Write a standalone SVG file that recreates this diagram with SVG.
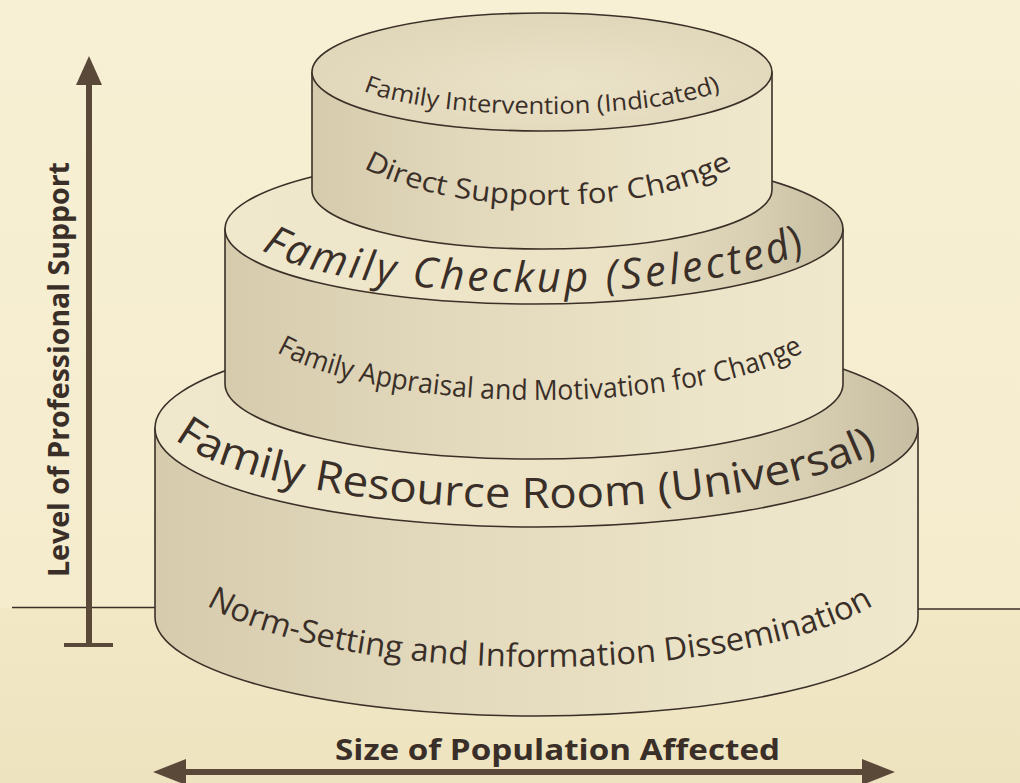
<svg xmlns="http://www.w3.org/2000/svg" xmlns:xlink="http://www.w3.org/1999/xlink" width="1020" height="783" viewBox="0 0 1020 783">
<style>
.outline{stroke:#3b3028;stroke-width:1.6;stroke-linejoin:round}
.lbl{font-family:"Open Sans","Liberation Sans",sans-serif;fill:#3a2f28}
.bold{font-weight:bold}
.arrow{fill:#5a4839}
.horizon{stroke:#3b3028;stroke-width:1.5}
</style>
<defs>
<linearGradient id="bg" x1="0" y1="0" x2="0" y2="1">
<stop offset="0" stop-color="#f8f0d4"/>
<stop offset="1" stop-color="#f5ecce"/>
</linearGradient>
<linearGradient id="ground" x1="0" y1="0" x2="0" y2="1">
<stop offset="0" stop-color="#f2e8c6"/>
<stop offset="1" stop-color="#eee3bf"/>
</linearGradient>
<linearGradient id="side" x1="0" y1="0" x2="1" y2="0">
<stop offset="0" stop-color="#d6cbad"/>
<stop offset="0.35" stop-color="#e2d8bb"/>
<stop offset="0.75" stop-color="#ece4c8"/>
<stop offset="1" stop-color="#f0e8cc"/>
</linearGradient>
<linearGradient id="top" x1="0" y1="0" x2="1" y2="0">
<stop offset="0" stop-color="#f0e8cd"/>
<stop offset="0.6" stop-color="#ece3c6"/>
<stop offset="0.85" stop-color="#d9d0b3"/>
<stop offset="1" stop-color="#c6bda2"/>
</linearGradient>
<radialGradient id="top1" cx="0.55" cy="0.6" r="0.6">
<stop offset="0" stop-color="#ebe3c8"/>
<stop offset="1" stop-color="#e0d6ba"/>
</radialGradient>
<path id="pFI" d="M 342,72 A 200 42 0 0 0 742,72"/>
<path id="pDS" d="M 328,123 A 220 82 0 0 0 768,123"/>
<path id="pFC" d="M 244,228 A 290 64 0 0 0 824,228"/>
<path id="pFA" d="M 240,308 A 300 92 0 0 0 840,308"/>
<path id="pFR" d="M 156,408 A 380 100 0 0 0 916,408"/>
<path id="pNS" d="M 170,558 A 370 109 0 0 0 910,558"/>
</defs>

<rect x="0" y="0" width="1020" height="609" fill="url(#bg)"/>
<rect x="0" y="608" width="1020" height="175" fill="url(#ground)"/>
<line class="horizon" x1="12" y1="607.5" x2="156" y2="607.5"/>
<line class="horizon" x1="917" y1="609" x2="1020" y2="609"/>

<g id="tier-universal">
<path class="outline" fill="url(#side)" d="M 155,428 L 155,617 A 381.5 99 0 0 0 918,617 L 918,428 Z"/>
<ellipse class="outline" fill="url(#top)" cx="536.5" cy="428" rx="381.5" ry="99"/>
</g>

<g id="tier-selected">
<path class="outline" fill="url(#side)" d="M 225,229 L 225,384 A 309 75 0 0 0 843,384 L 843,229 Z"/>
<ellipse class="outline" fill="url(#top)" cx="534" cy="229" rx="309" ry="75"/>
</g>

<g id="tier-indicated">
<path class="outline" fill="url(#side)" d="M 312,72 L 312,190 A 230 59 0 0 0 772,190 L 772,72 Z"/>
<ellipse class="outline" fill="url(#top1)" cx="542" cy="72" rx="230" ry="59"/>
</g>

<g id="labels">
<text class="lbl" font-size="24"><textPath xlink:href="#pFI" href="#pFI" startOffset="50%" text-anchor="middle" textLength="362" lengthAdjust="spacingAndGlyphs">Family Intervention (Indicated)</textPath></text>
<text class="lbl" font-size="28"><textPath xlink:href="#pDS" href="#pDS" startOffset="50%" text-anchor="middle" textLength="380" lengthAdjust="spacingAndGlyphs">Direct Support for Change</textPath></text>
<text class="lbl" font-size="42" font-style="italic"><textPath xlink:href="#pFC" href="#pFC" startOffset="50%" text-anchor="middle" textLength="555" lengthAdjust="spacing">Family Checkup (Selected)</textPath></text>
<text class="lbl" font-size="28"><textPath xlink:href="#pFA" href="#pFA" startOffset="50%" text-anchor="middle" textLength="540" lengthAdjust="spacingAndGlyphs">Family Appraisal and Motivation for Change</textPath></text>
<text class="lbl" font-size="42"><textPath xlink:href="#pFR" href="#pFR" startOffset="397.6" text-anchor="middle" textLength="722" lengthAdjust="spacingAndGlyphs">Family Resource Room (Universal)</textPath></text>
<text class="lbl" font-size="32"><textPath xlink:href="#pNS" href="#pNS" startOffset="50%" text-anchor="middle" textLength="685" lengthAdjust="spacingAndGlyphs">Norm-Setting and Information Dissemination</textPath></text>
<text class="lbl bold" font-size="28" transform="translate(69,369.5) rotate(-90)" text-anchor="middle" textLength="415" lengthAdjust="spacingAndGlyphs">Level of Professional Support</text>
<text class="lbl bold" font-size="29" x="557.5" y="760" text-anchor="middle" textLength="445" lengthAdjust="spacingAndGlyphs">Size of Population Affected</text>
</g>

<g id="connectors">
<g id="axis-vertical">
<rect class="arrow" x="86" y="82" width="6" height="564"/>
<polygon class="arrow" points="89,56 102,85 76,85"/>
<rect class="arrow" x="64" y="643" width="49" height="4"/>
</g>
<g id="axis-horizontal">
<rect class="arrow" x="182" y="769" width="684" height="6"/>
<polygon class="arrow" points="153,772 186,759 186,785"/>
<polygon class="arrow" points="895,772 862,759 862,785"/>
</g>
</g>
</svg>
